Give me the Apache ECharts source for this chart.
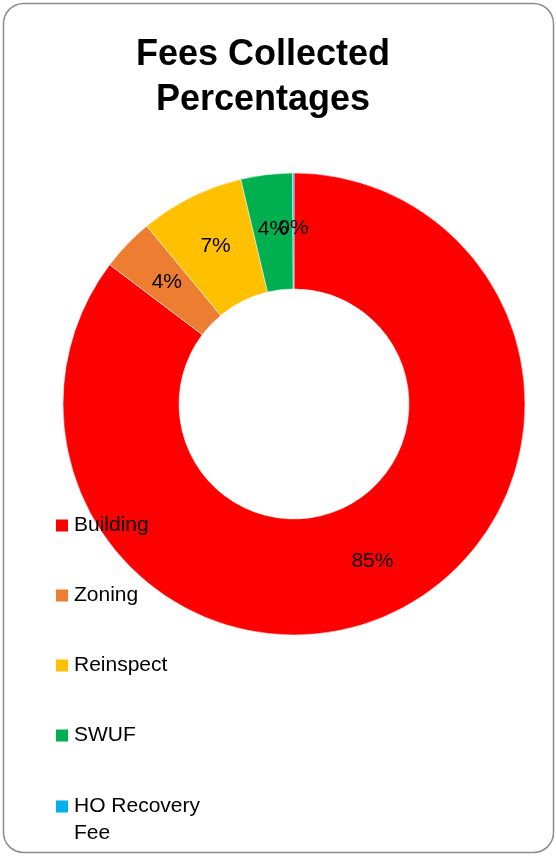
<!DOCTYPE html>
<html><head><meta charset="utf-8">
<script src="https://cdn.jsdelivr.net/npm/echarts@6/dist/echarts.min.js"></script>
<style>html,body{margin:0;padding:0;background:#fff}#c{width:556px;height:857px}</style>
</head><body><div id="c"></div>
<script>
const categories = ['Building', 'Zoning', 'Reinspect', 'SWUF', 'HO Recovery Fee'];
const values = [85.3, 3.7, 7.3, 3.6, 0.1];
const colors = ['#FF0000', '#ED7D31', '#FFC000', '#00B050', '#00B0F0'];
const titleText = 'Fees Collected\nPercentages';

const chart = echarts.init(document.getElementById('c'));
const font = '"Liberation Sans", Arial, sans-serif';
chart.setOption({
  animation: false,
  backgroundColor: '#fff',
  title: {
    text: titleText, left: 258, top: 28, textAlign: 'center',
    textStyle: { fontFamily: font, fontWeight: 'bold', fontSize: 36, lineHeight: 45, color: '#000' }
  },
  graphic: [{
    type: 'rect', shape: { x: 3.5, y: 3.5, width: 550, height: 849, r: 20 },
    style: { fill: 'none', stroke: '#8c8c8c', lineWidth: 1.5 }, silent: true, z: -1
  }],
  legend: [{
    orient: 'vertical', left: 49, top: 510, itemWidth: 14, itemHeight: 14, itemGap: 49,
    icon: 'rect', selectedMode: false,
    data: categories.slice(0, 4),
    textStyle: { fontFamily: font, fontSize: 21, lineHeight: 20, color: '#000' }
  }, {
    orient: 'vertical', left: 49, top: 761, itemWidth: 14, itemHeight: 14,
    icon: 'rect', selectedMode: false,
    data: categories.slice(4),
    formatter: function (n) { return n === 'HO Recovery Fee' ? ' \nHO Recovery\nFee' : n; },
    textStyle: { fontFamily: font, fontSize: 21, lineHeight: 27, color: '#000' }
  }],
  series: [{
    type: 'pie', center: [294, 404], radius: [115, 231], startAngle: 90, clockwise: true,
    avoidLabelOverlap: false, minShowLabelAngle: 0,
    labelLayout: { hideOverlap: false },
    itemStyle: { borderColor: '#fff', borderWidth: 0.5 },
    label: {
      position: 'inside', fontFamily: font, fontSize: 21, color: '#000',
      formatter: function (p) { return Math.round(p.percent) + '%'; }
    },
    labelLine: { show: false },
    emphasis: { disabled: true },
    data: categories.map((c, i) => ({ name: c, value: values[i], itemStyle: { color: colors[i] } }))
  }]
});
</script></body></html>
